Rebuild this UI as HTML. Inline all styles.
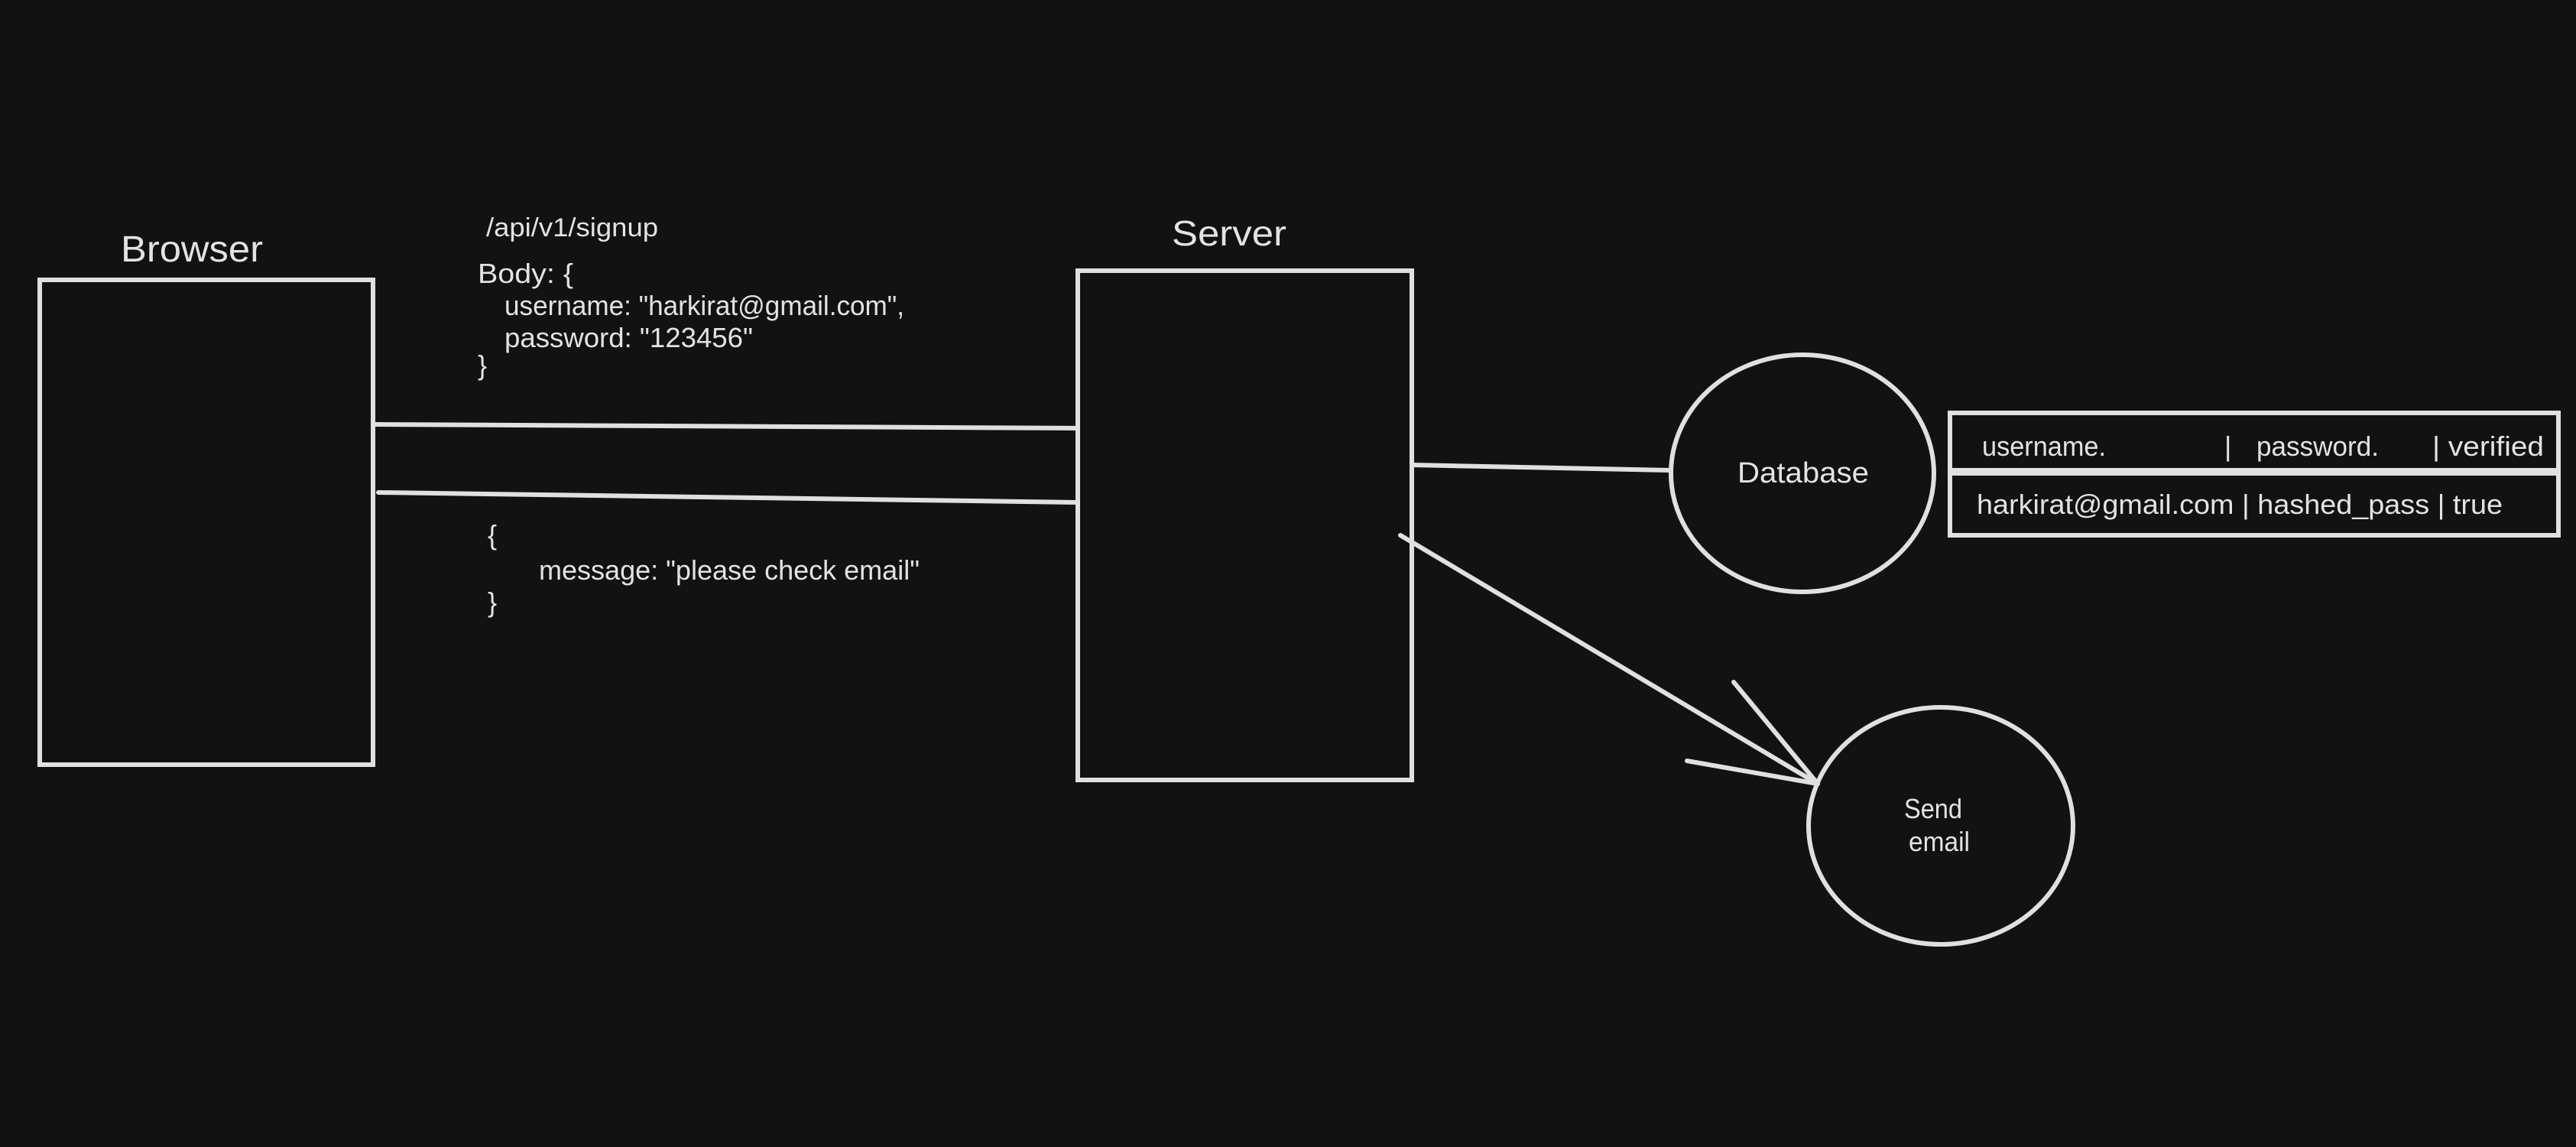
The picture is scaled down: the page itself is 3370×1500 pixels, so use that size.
<!DOCTYPE html>
<html><head><meta charset="utf-8"><style>
html,body{margin:0;padding:0;background:#121212;}
svg{display:block;}
text{font-family:"Liberation Sans",sans-serif;fill:#e3e3e3;}
</style></head><body>
<svg width="3370" height="1500" viewBox="0 0 3370 1500" xmlns="http://www.w3.org/2000/svg">
<rect width="3370" height="1500" fill="#121212"/>
<g fill="none" stroke="#e0e0e0" stroke-width="6" stroke-linecap="round">
<rect x="52" y="366" width="436" height="634"/>
<rect x="1410" y="354" width="437" height="666"/>
<line x1="490" y1="555" x2="1410" y2="560"/>
<line x1="495" y1="644" x2="1410" y2="657"/>
<line x1="1847" y1="608" x2="2186" y2="615"/>
<ellipse cx="2358" cy="619" rx="172" ry="155"/>
<rect x="2551" y="540" width="796" height="75"/>
<rect x="2551" y="619" width="796" height="81"/>
<line x1="1832" y1="700" x2="2378" y2="1025"/>
<line x1="2268" y1="892" x2="2378" y2="1025"/>
<line x1="2207" y1="995" x2="2378" y2="1025"/>
<ellipse cx="2539" cy="1080" rx="173" ry="155"/>
</g>
<text x="158" y="342" font-size="48" textLength="186" lengthAdjust="spacingAndGlyphs">Browser</text>
<text x="1533" y="321" font-size="46" textLength="150" lengthAdjust="spacingAndGlyphs">Server</text>
<text x="636" y="309" font-size="34" textLength="225" lengthAdjust="spacingAndGlyphs">/api/v1/signup</text>
<text x="625" y="370" font-size="36" textLength="125" lengthAdjust="spacingAndGlyphs">Body: {</text>
<text x="660" y="412" font-size="36" textLength="523" lengthAdjust="spacingAndGlyphs">username: "harkirat@gmail.com",</text>
<text x="660" y="454" font-size="36" textLength="325" lengthAdjust="spacingAndGlyphs">password: "123456"</text>
<text x="625" y="490" font-size="36">}</text>
<text x="638" y="712" font-size="36">{</text>
<text x="705" y="758" font-size="36" textLength="498" lengthAdjust="spacingAndGlyphs">message: "please check email"</text>
<text x="638" y="800" font-size="36">}</text>
<text x="2273" y="631" font-size="38" textLength="172" lengthAdjust="spacingAndGlyphs">Database</text>
<text x="2593" y="596" font-size="36" textLength="162" lengthAdjust="spacingAndGlyphs">username.</text>
<text x="2910" y="596" font-size="36">|</text>
<text x="2952" y="596" font-size="36" textLength="160" lengthAdjust="spacingAndGlyphs">password.</text>
<text x="3182" y="596" font-size="36" textLength="146" lengthAdjust="spacingAndGlyphs">| verified</text>
<text x="2586" y="672" font-size="36" textLength="688" lengthAdjust="spacingAndGlyphs">harkirat@gmail.com | hashed_pass | true</text>
<text x="2491" y="1070" font-size="36" textLength="76" lengthAdjust="spacingAndGlyphs">Send</text>
<text x="2497" y="1113" font-size="36" textLength="80" lengthAdjust="spacingAndGlyphs">email</text>
</svg>
</body></html>
